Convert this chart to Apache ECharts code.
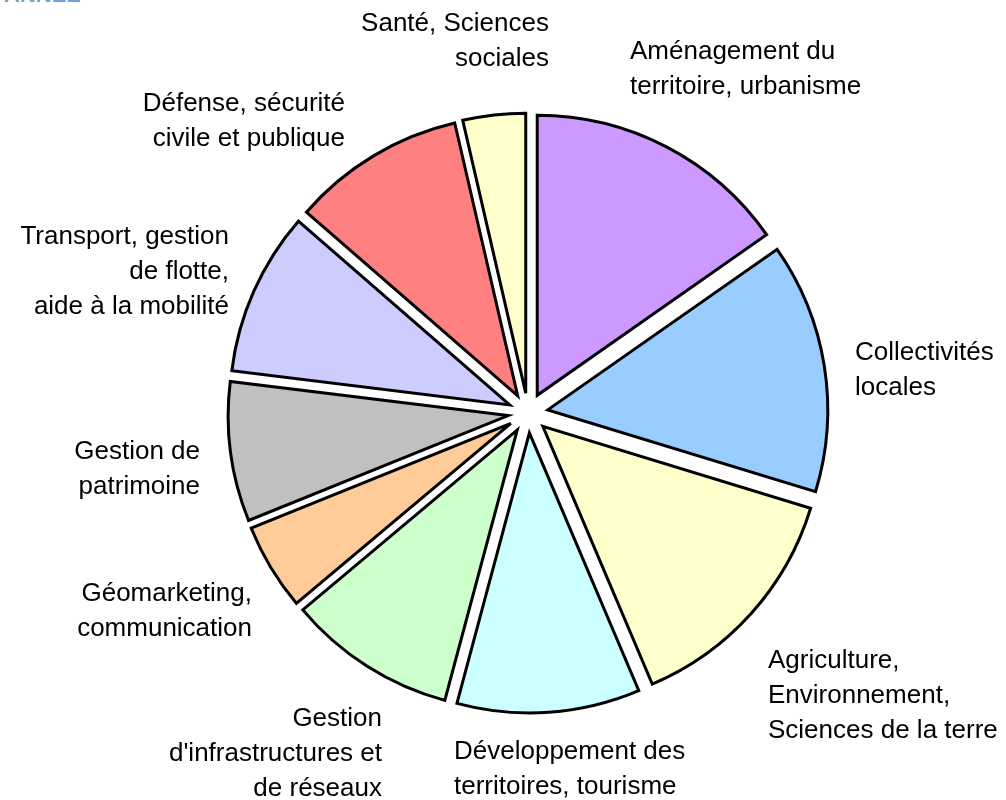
<!DOCTYPE html>
<html>
<head>
<meta charset="utf-8">
<script src="https://cdn.jsdelivr.net/npm/echarts@6/dist/echarts.min.js"></script>
<style>
html,body{margin:0;padding:0;background:#fff;}
#chart{width:1006px;height:800px;}
</style>
</head>
<body>
<div id="chart"></div>
<script>
// Data
const categories = [
  "Aménagement du\nterritoire, urbanisme",
  "Collectivités\nlocales",
  "Agriculture,\nEnvironnement,\nSciences de la terre",
  "Développement des\nterritoires, tourisme",
  "Gestion\nd'infrastructures et\nde réseaux",
  "Géomarketing,\ncommunication",
  "Gestion de\npatrimoine",
  "Transport, gestion\nde flotte,\naide à la mobilité",
  "Défense, sécurité\ncivile et publique",
  "Santé, Sciences\nsociales"
];
const values = [55, 52, 50, 38, 35, 18, 29, 34, 36, 13];
const colors = ["#CC99FF", "#99CCFF", "#FFFFCC", "#CCFFFF", "#CCFFCC", "#FFCC99", "#C0C0C0", "#CCCCFF", "#FF8080", "#FFFFCC"];

// Label layout (anchor x, y, alignment)
const labelLayoutSpec = [
  {x: 630, y: 69, align: 'left'},
  {x: 855, y: 370, align: 'left'},
  {x: 768, y: 696, align: 'left'},
  {x: 454, y: 769, align: 'left'},
  {x: 382, y: 754, align: 'right'},
  {x: 252, y: 611, align: 'right'},
  {x: 200, y: 469, align: 'right'},
  {x: 229, y: 272, align: 'right'},
  {x: 345, y: 121, align: 'right'},
  {x: 549, y: 41, align: 'right'}
];

const FONT = '"Liberation Sans", Arial, sans-serif';
const CENTER = [528, 413];
const RADIUS = 280;

const chart = echarts.init(document.getElementById('chart'), null, {renderer: 'canvas'});
const option = {
  animation: false,
  backgroundColor: '#ffffff',
  graphic: [{
    type: 'text',
    left: 4,
    top: -15,
    silent: true,
    style: {text: 'ANNEE', fill: '#6FA3D8', font: 'bold 22px ' + FONT}
  }],
  series: [{
    type: 'pie',
    center: CENTER,
    radius: [0, RADIUS],
    startAngle: 90,
    clockwise: true,
    selectedMode: 'multiple',
    selectedOffset: 20,
    emphasis: {disabled: true},
    itemStyle: {borderColor: '#000', borderWidth: 3, borderJoin: 'miter', borderMiterLimit: 4},
    label: {show: false},
    labelLine: {show: false},
    data: categories.map((c, i) => ({
      name: c,
      value: values[i],
      selected: true,
      itemStyle: {color: colors[i]}
    }))
  }, {
    type: 'pie',
    center: CENTER,
    radius: [0, RADIUS],
    startAngle: 90,
    clockwise: true,
    silent: true,
    selectedMode: false,
    emphasis: {disabled: true},
    z: 5,
    itemStyle: {color: 'rgba(0,0,0,0)', borderWidth: 0},
    label: {
      show: true,
      position: 'outside',
      alignTo: 'none',
      overflow: 'none',
      width: 400,
      color: '#000',
      fontSize: 26,
      lineHeight: 35,
      fontFamily: FONT,
      formatter: '{b}'
    },
    labelLine: {show: false},
    labelLayout: function (params) {
      const s = labelLayoutSpec[params.dataIndex];
      return {x: s.x, y: s.y, align: s.align, verticalAlign: 'middle', hideOverlap: false};
    },
    data: categories.map((c, i) => ({name: c, value: values[i]}))
  }]
};
chart.setOption(option);
</script>
</body>
</html>
